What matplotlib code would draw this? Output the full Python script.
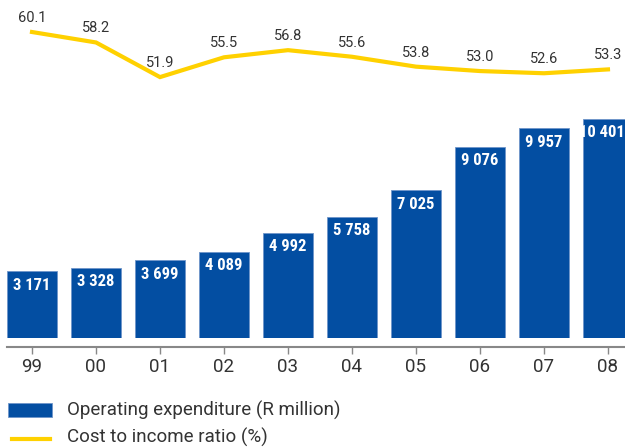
import matplotlib.pyplot as plt
from matplotlib.patches import Rectangle
from matplotlib.lines import Line2D
from matplotlib import font_manager

years = ["99", "00", "01", "02", "03", "04", "05", "06", "07", "08"]
opex = [3171, 3328, 3699, 4089, 4992, 5758, 7025, 9076, 9957, 10401]
ratio = [60.1, 58.2, 51.9, 55.5, 56.8, 55.6, 53.8, 53.0, 52.6, 53.3]

blue = "#034EA2"
yellow = "#FFD100"
grey = "#333333"

# narrow face for the white bar labels, if one is installed
fonts = font_manager.fontManager.ttflist
narrow = [f for f in fonts if "Narrow" in f.fname or "Condensed" in f.fname]
cond_fam, cond_stretch = "Roboto", "normal"
for pref in ["Liberation Sans Narrow", "Roboto Condensed", "DejaVu Sans"]:
    hit = [f for f in narrow if f.name == pref]
    if hit:
        cond_fam = pref
        cond_stretch = "condensed" if pref == "DejaVu Sans" else "normal"
        break
plt.rcParams["font.family"] = ["Roboto", "DejaVu Sans"]

fig = plt.figure(figsize=(6.25, 4.47), dpi=100)
ax = fig.add_axes([0, 109 / 447, 1, 338 / 447])
x = list(range(len(years)))

ax.bar(x, opex, width=50 / 64, color=blue, edgecolor="#6f95c9", linewidth=0.6)
for xi, v in zip(x, opex):
    lab = f"{v:,}".replace(",", " ")
    dx = -6 if xi == len(years) - 1 else 0  # last bar runs off the edge
    ax.annotate(lab, (xi, v), xytext=(dx, -14), textcoords="offset pixels",
                ha="center", va="center", color="white", fontsize=12,
                fontweight="bold", family=[cond_fam, "DejaVu Sans"],
                fontstretch=cond_stretch)

ax.set_xlim(-0.5, 9.266)
ax.set_ylim(0, 338 / 0.02106)
ax.set_yticks([])
for s in ["top", "right", "left"]:
    ax.spines[s].set_visible(False)
ax.spines["bottom"].set_position(("outward", 6.5))
ax.spines["bottom"].set_color("#888888")
ax.spines["bottom"].set_linewidth(1.5)
ax.spines["bottom"].set_bounds(-0.39, 9.266)
ax.set_xticks(x)
ax.set_xticklabels(years, fontsize=13.5, color=grey)
ax.tick_params(axis="x", length=5, width=1, color="#888888", pad=3)

ax2 = ax.twinx()
ax2.plot(x, ratio, color=yellow, linewidth=3, solid_joinstyle="miter")
ax2.set_ylim(4.46, 65.92)
ax2.axis("off")
for xi, v in zip(x, ratio):
    ax2.annotate(f"{v:.1f}", (xi, v), xytext=(0, 14), textcoords="offset pixels",
                 ha="center", va="center", color=grey, fontsize=10.5)

# legend drawn by hand, in figure pixels
W, H = 625, 447
fig.add_artist(Rectangle((8 / W, (H - 417) / H), 44 / W, 14 / H,
                         transform=fig.transFigure, facecolor=blue,
                         edgecolor="#6f95c9", linewidth=0.6))
fig.add_artist(Line2D([12 / W, 50 / W], [(H - 439) / H] * 2,
                      transform=fig.transFigure, color=yellow, linewidth=3))
fig.text(67 / W, (H - 410) / H, "Operating expenditure (R million)",
         va="center", ha="left", fontsize=13.5, color=grey)
fig.text(67 / W, (H - 437) / H, "Cost to income ratio (%)",
         va="center", ha="left", fontsize=13.5, color=grey)

fig.savefig("out.png", dpi=100)
